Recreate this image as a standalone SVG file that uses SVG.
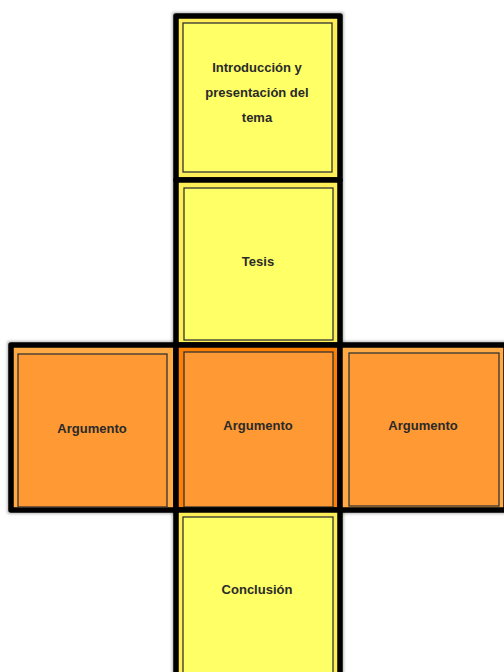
<svg xmlns="http://www.w3.org/2000/svg" width="504" height="672" viewBox="0 0 504 672">
<defs>
<filter id="soft" x="-10%" y="-10%" width="120%" height="120%">
<feGaussianBlur stdDeviation="1.5"/>
</filter>
<style>
.outer{stroke:#000;stroke-width:5.5;stroke-linejoin:round}
.shadow{fill:none;stroke:#000;stroke-opacity:0.35;stroke-width:7}
.inner{stroke:#333;stroke-width:1.3}
.y-band{fill:#FFEE55}
.y-fill{fill:#FFFF66}
.o-band{fill:#FFAA44}
.o-dark{fill:#FF8000}
.o-fill{fill:#FF9933}
text{font-family:"Liberation Sans",Arial,sans-serif;font-size:13px;font-weight:bold;fill:#2a2a2a;text-anchor:middle}
</style>
</defs>
<rect width="504" height="672" fill="#fff"/>
<g id="shadows" filter="url(#soft)">
<rect class="shadow" x="176" y="16" width="164" height="700"/>
<rect class="shadow" x="11" y="345" width="493" height="165"/>
</g>
<g id="intro">
<rect class="outer y-band" x="176" y="16" width="164" height="164"/>
<rect class="inner y-fill" x="183" y="23" width="149" height="149"/>
<text x="257" y="72">Introducción y</text>
<text x="257" y="97">presentación del</text>
<text x="257" y="122">tema</text>
</g>
<g id="tesis">
<rect class="outer y-band" x="176" y="180" width="164" height="165"/>
<rect class="inner y-fill" x="184" y="188" width="149" height="152"/>
<text x="258" y="266">Tesis</text>
</g>
<g id="argumento-izq">
<rect class="outer o-band" x="11" y="345" width="165" height="165"/>
<rect class="inner o-fill" x="18" y="354" width="149" height="153"/>
<text x="92" y="433">Argumento</text>
</g>
<g id="argumento-centro">
<rect class="outer o-dark" x="176" y="345" width="164" height="165"/>
<rect class="inner o-fill" x="184" y="352" width="149" height="155"/>
<text x="258" y="430">Argumento</text>
</g>
<g id="argumento-der">
<rect class="outer o-band" x="340" y="345" width="166" height="165"/>
<rect class="inner o-fill" x="349" y="353" width="150" height="153"/>
<text x="423" y="430">Argumento</text>
</g>
<g id="conclusion">
<rect class="outer y-band" x="176" y="510" width="164" height="200"/>
<rect class="inner y-fill" x="183" y="517" width="150" height="170"/>
<text x="257" y="594">Conclusión</text>
</g>
</svg>
